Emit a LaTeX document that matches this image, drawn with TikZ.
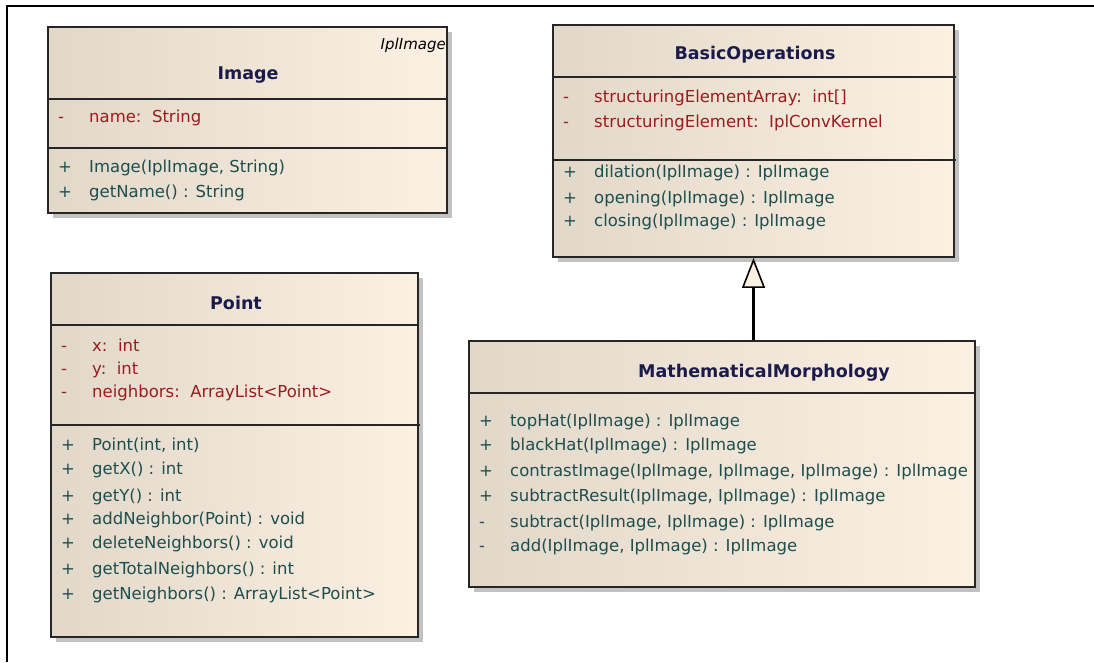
\documentclass[tikz,border=0pt]{standalone}
\usepackage{fontspec}
\setmainfont{DejaVu Sans}
\usetikzlibrary{shadows,fit,arrows.meta}

\definecolor{boxleft}{HTML}{E2D8CA}
\definecolor{boxright}{HTML}{FBF0E2}
\definecolor{titleblue}{HTML}{1B1B4B}
\definecolor{attrred}{HTML}{9A1C1C}
\definecolor{opteal}{HTML}{1E4E4E}
\definecolor{shadowgrey}{HTML}{C2C2C2}

\tikzset{
  classbox/.style={draw=black!85, line width=1.8pt, inner sep=0pt,
    left color=boxleft, middle color=boxright, right color=boxright,
    drop shadow={shadow xshift=5pt, shadow yshift=-5pt, fill=shadowgrey, opacity=1}},
  compline/.style={draw=black!85, line width=1.3pt},
  classname/.style={font=\fontsize{17.5}{20}\selectfont\bfseries, text=titleblue, inner sep=0pt},
  member/.style={font=\fontsize{16.5}{20}\selectfont, anchor=west, inner sep=0pt,
    text height=12pt, text depth=4pt},
  attr/.style={member, text=attrred},
  oper/.style={member, text=opteal},
  inherits/.style={line width=2.2pt, draw=black,
    -{Triangle[length=30pt, width=23pt, fill=boxright, line width=1.6pt]}}
}

% one row per member: visibility, signature, baseline y
\newcommand{\members}[4]{%
  \foreach \vis/\txt/\yy [count=\i] in {#4}
  {
    \node[#3] (#1vis\i) at (#2+10, \yy) {\vis};
    \node[#3] (#1txt\i) at (#2+41, \yy) {\txt};
  }}

\begin{document}
\begin{tikzpicture}[x=1pt,y=-1pt]
  \useasboundingbox (0,0) rectangle (1094,662);
  % The frame
  \draw[line width=2.2pt] (7,662) -- (7,6) -- (1094,6);

  % The class boxes
  \node[classbox, fit={(48,27) (447,213)}] (image) {};
  \node[classbox, fit={(553,25) (954,257)}] (basicops) {};
  \node[classbox, fit={(51,273) (418,637)}] (point) {};
  \node[classbox, fit={(469,341) (975,587)}] (morph) {};

  % The compartments
  \draw[compline] (48,99) -- (447,99);
  \draw[compline] (48,148) -- (447,148);
  \draw[compline] (553,77) -- (956,77);
  \draw[compline] (553,160) -- (956,160);
  \draw[compline] (51,325) -- (418,325);
  \draw[compline] (51,425) -- (420,425);
  \draw[compline] (469,393) -- (975,393);

  % The class names
  \node[classname] (imagename) at (248,75) {Image};
  \node[font=\fontsize{15}{18}\selectfont\itshape, anchor=east, inner sep=0pt] (imagestereo) at (446,45) {IplImage};
  \node[classname] (basicopsname) at (755,55) {BasicOperations};
  \node[classname] (pointname) at (236,303) {Point};
  \node[classname] (morphname) at (764,373) {MathematicalMorphology};

  % Image
  \members{imga}{48}{attr}{-/{name:~~String}/118}
  \members{imgo}{48}{oper}{+/{Image(IplImage, String)}/168, +/{getName() : String}/193}

  % BasicOperations
  \members{boa}{553}{attr}{-/{structuringElementArray:~~int[]}/98,
    -/{structuringElement:~~IplConvKernel}/123}
  \members{boo}{553}{oper}{+/{dilation(IplImage) : IplImage}/173,
    +/{opening(IplImage) : IplImage}/199,
    +/{closing(IplImage) : IplImage}/222}

  % Point
  \members{pta}{51}{attr}{-/{x:~~int}/347, -/{y:~~int}/370,
    -/{neighbors:~~ArrayList<Point>}/393}
  \members{pto}{51}{oper}{+/{Point(int, int)}/446, +/{getX() : int}/470,
    +/{getY() : int}/497, +/{addNeighbor(Point) : void}/520,
    +/{deleteNeighbors() : void}/544, +/{getTotalNeighbors() : int}/570,
    +/{getNeighbors() : ArrayList<Point>}/595}

  % MathematicalMorphology
  \members{mmo}{469}{oper}{+/{topHat(IplImage) : IplImage}/422,
    +/{blackHat(IplImage) : IplImage}/446,
    +/{contrastImage(IplImage, IplImage, IplImage) : IplImage}/472,
    +/{subtractResult(IplImage, IplImage) : IplImage}/497,
    -/{subtract(IplImage, IplImage) : IplImage}/523,
    -/{add(IplImage, IplImage) : IplImage}/547}

  % Generalisation
  \draw[inherits] (morph.north -| basicops.south) -- (basicops.south);
\end{tikzpicture}
\end{document}
